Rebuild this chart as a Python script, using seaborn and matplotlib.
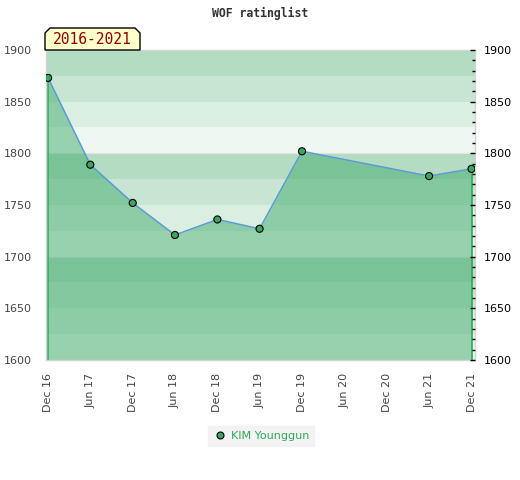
import matplotlib
matplotlib.use("Agg")
import matplotlib.pyplot as plt
from matplotlib.patches import Polygon
from matplotlib.ticker import MultipleLocator
import seaborn as sns
import pandas as pd

# ---- data ----
dates = ["2016-12-01", "2017-06-01", "2017-12-01", "2018-06-01", "2018-12-01",
         "2019-06-01", "2019-12-01", "2021-06-01", "2021-12-01"]
ratings = [1873, 1789, 1752, 1721, 1736, 1727, 1802, 1778, 1785]
player = "KIM Younggun"
tick_dates = ["2016-12-01", "2017-06-01", "2017-12-01", "2018-06-01", "2018-12-01",
              "2019-06-01", "2019-12-01", "2020-06-01", "2020-12-01", "2021-06-01",
              "2021-12-01"]
tick_labels = ["Dec 16", "Jun 17", "Dec 17", "Jun 18", "Dec 18", "Jun 19",
               "Dec 19", "Jun 20", "Dec 20", "Jun 21", "Dec 21"]
title = "WOF ratinglist"
badge = "2016-2021"

df = pd.DataFrame({"date": pd.to_datetime(dates), "rating": ratings, "player": player})

sns.set_theme(style="white")
plt.rcParams["font.family"] = ["DejaVu Sans"]

W, H = 520, 480
fig = plt.figure(figsize=(W / 100, H / 100), dpi=100)
ax = fig.add_axes([46 / W, 1 - 360 / H, (475 - 46) / W, (360 - 50) / H])

# background bands
band_cols = ["#b3dcc2", "#c8e5d3", "#dbeee2", "#eef7f1"]
y0, y1 = 1600, 1900
for i, top in enumerate(range(y1, y0, -25)):
    ax.axhspan(top - 25, top, color=band_cols[i % 4], lw=0, zorder=0)
for g in range(y0, y1 + 1, 100):
    ax.axhline(g, color="#e2e2e2", lw=0.8, zorder=0.5)

green = "#41ac6c"
ax.fill_between(df["date"], df["rating"], y0, color=green, alpha=0.5, lw=0, zorder=1)
ax.vlines([df["date"].iloc[0], df["date"].iloc[-1]], y0,
          [df["rating"].iloc[0], df["rating"].iloc[-1]], color="#2ea85a", lw=1.2, zorder=2)

sns.lineplot(data=df, x="date", y="rating", ax=ax, color="#5b9bd5", lw=1.1,
             legend=False, zorder=3)
sns.scatterplot(data=df, x="date", y="rating", hue="player", palette=["#3aa65e"],
                ax=ax, s=26, edgecolor="black", linewidth=0.8, zorder=4, legend=False)

tk = pd.to_datetime(tick_dates)
ax.set_xlim(tk[0] - pd.Timedelta(days=9), tk[-1] + pd.Timedelta(days=15))
ax.set_ylim(y0, y1)
ax.set_xticks(tk)
ax.set_xticklabels(tick_labels, rotation=90, fontsize=8, color="#444444")
ax.set_xlabel("")
ax.set_ylabel("")
ax.tick_params(axis="x", length=0, pad=9)
ax.yaxis.set_major_locator(MultipleLocator(50))
ax.tick_params(axis="y", length=0, labelsize=8, labelcolor="#444444", pad=10)

for s in ax.spines.values():
    s.set_color("#d4d4d4")
    s.set_linewidth(1)

# right axis
ax2 = ax.twinx()
ax2.set_ylim(y0, y1)
ax2.yaxis.set_major_locator(MultipleLocator(50))
ax2.yaxis.set_minor_locator(MultipleLocator(10))
ax2.tick_params(axis="y", which="major", direction="in", length=3.5, width=1,
                color="black", labelsize=8, labelcolor="black", pad=6)
ax2.tick_params(axis="y", which="minor", direction="in", length=2.5, width=1, color="black")
for s in ax2.spines.values():
    s.set_visible(False)
ax2.grid(False)
ax.grid(False)

# title
fig.text(260 / W, 1 - 13 / H, title, ha="center", va="center",
         family="DejaVu Sans Mono", fontweight="bold", fontsize=8.3, color="#333333")

# badge with cut top corners
bx0, bx1, by0, by1, c = 45, 140, 50, 28, 5
pts = [(bx0, by0), (bx0, by1 + c), (bx0 + c, by1), (bx1 - c, by1), (bx1, by1 + c), (bx1, by0)]
pts = [(x / W, 1 - y / H) for x, y in pts]
fig.add_artist(Polygon(pts, closed=True, facecolor="#ffffcc", edgecolor="black",
                       lw=1, transform=fig.transFigure, zorder=10))
fig.text((bx0 + bx1) / 2 / W, 1 - 40 / H, badge, ha="center", va="center",
         family="DejaVu Sans Mono", fontsize=10.5, color="#8b0000", zorder=11)

# legend
h = plt.Line2D([], [], marker="o", ls="", markerfacecolor="#3aa65e",
               markeredgecolor="black", markersize=5, markeredgewidth=0.8)
leg = fig.legend([h], [player], loc="center", bbox_to_anchor=(261 / W, 1 - 436 / H),
                 frameon=True, fontsize=8, handletextpad=0.4, borderpad=0.45,
                 handlelength=1.2, fancybox=False)
leg.get_frame().set_facecolor("#f0f0f0")
leg.get_frame().set_edgecolor("#f0f0f0")
for t in leg.get_texts():
    t.set_color("#2ea85a")

fig.savefig("out.png", dpi=100)
